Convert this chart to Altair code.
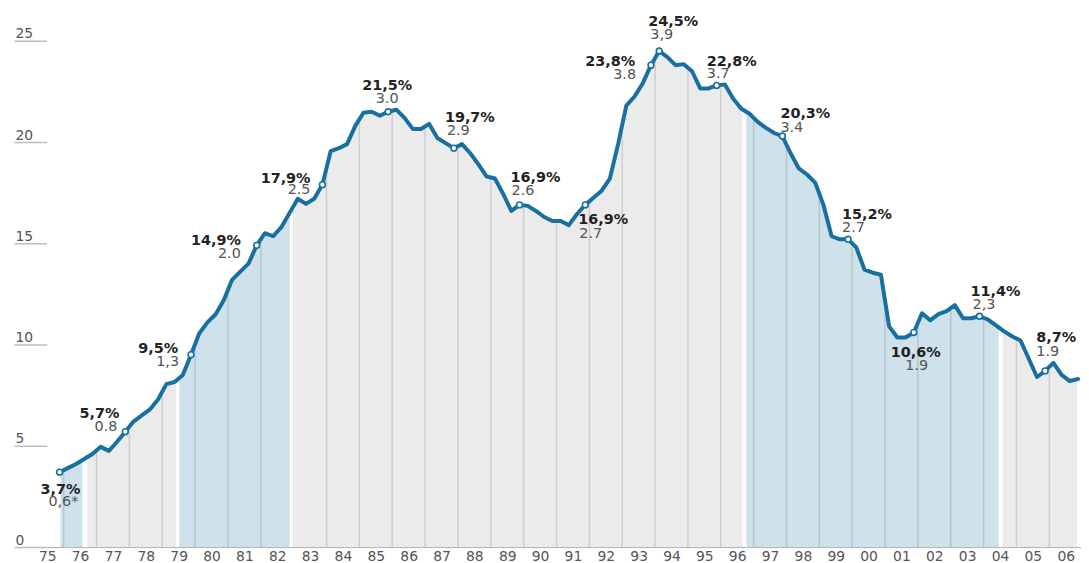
import altair as alt
import pandas as pd

# ---------------- data ----------------
first_year = 1975
first_quarter = 4  # series starts in Q4 1975

# unemployment rate (%), quarterly, Q4 1975 .. Q4 2006
unemployment = [
    3.7,
    3.9, 4.1, 4.35, 4.6,        # 1976
    4.95, 4.75, 5.2, 5.7,       # 1977
    6.2, 6.5, 6.8, 7.3,         # 1978
    8.05, 8.15, 8.5, 9.5,       # 1979
    10.55, 11.1, 11.5, 12.2,    # 1980
    13.2, 13.6, 14.0, 14.9,     # 1981
    15.5, 15.35, 15.8, 16.5,    # 1982
    17.2, 16.95, 17.2, 17.9,    # 1983
    19.55, 19.7, 19.9, 20.8,    # 1984
    21.45, 21.5, 21.3, 21.5,    # 1985
    21.6, 21.2, 20.65, 20.65,   # 1986
    20.9, 20.2, 19.95, 19.7,    # 1987
    19.9, 19.45, 18.9, 18.3,    # 1988
    18.2, 17.45, 16.6, 16.9,    # 1989
    16.85, 16.6, 16.3, 16.1,    # 1990
    16.1, 15.9, 16.45, 16.9,    # 1991
    17.25, 17.6, 18.2, 19.9,    # 1992
    21.8, 22.25, 22.9, 23.8,    # 1993
    24.5, 24.2, 23.8, 23.85,    # 1994
    23.5, 22.65, 22.65, 22.8,   # 1995
    22.85, 22.15, 21.65, 21.4,  # 1996
    21.0, 20.7, 20.45, 20.3,    # 1997
    19.45, 18.7, 18.4, 18.0,    # 1998
    16.9, 15.35, 15.2, 15.2,    # 1999
    14.8, 13.7, 13.55, 13.45,   # 2000
    10.9, 10.35, 10.35, 10.6,   # 2001
    11.55, 11.2, 11.5, 11.65,   # 2002
    11.95, 11.3, 11.3, 11.4,    # 2003
    11.25, 10.95, 10.65, 10.4,  # 2004
    10.2, 9.3, 8.4, 8.7,        # 2005
    9.1, 8.5, 8.2, 8.3,         # 2006
]

# annotated quarters (year, quarter), rate label, unemployed (millions) label
ann_year = [1975, 1977, 1979, 1981, 1983, 1985, 1987, 1989, 1991, 1993,
            1994, 1995, 1997, 1999, 2001, 2003, 2005]
ann_quarter = [4, 4, 4, 4, 4, 4, 4, 4, 4, 4, 1, 4, 4, 4, 4, 4, 4]
ann_pct = ["3,7%", "5,7%", "9,5%", "14,9%", "17,9%", "21,5%", "19,7%",
           "16,9%", "16,9%", "23,8%", "24,5%", "22,8%", "20,3%", "15,2%",
           "10,6%", "11,4%", "8,7%"]
ann_mil = ["0,6*", "0.8", "1,3", "2.0", "2.5", "3.0", "2.9", "2.6", "2.7",
           "3.8", "3,9", "3.7", "3.4", "2.7", "1.9", "2,3", "1.9"]

# government periods (fractional years) and shading
band_start = [1975.9, 1976.72, 1979.52, 1983.04, 1996.78, 2004.58]
band_end = [1976.57, 1979.42, 1982.88, 1996.66, 2004.46, 2006.85]
band_kind = ["blue", "gray", "blue", "gray", "blue", "gray"]

year_lines = list(range(1976, 2007))
x_label_years = list(range(1975, 2007))
y_ticks = [0, 5, 10, 15, 20, 25]

# ---------------- styling ----------------
LINE = "#17709f"
GRAY_FILL = "#ebebeb"
BLUE_FILL = "#cfe1ea"
FONT = "DejaVu Sans"
X_MIN, X_MAX = 1975.483, 2006.965
Y_MAX = 26.52

# label placement: (align, dx, dy) for rate and for millions
placement = [
    ("right", 21, 18, "right", 19, 30),
    ("right", -6, -18, "right", -8, -5),
    ("right", -13, -6, "right", -12, 7),
    ("right", -16, -4, "right", -16, 9),
    ("right", -12, -6, "right", -12, 5),
    ("center", -1, -26, "center", -1, -13),
    ("left", -9, -30, "left", -7, -17),
    ("left", -9, -27, "left", -8, -14),
    ("left", -7, 15, "left", -6, 29),
    ("right", -16, -3, "right", -15, 10),
    ("left", -11, -29, "left", -9, -16),
    ("left", -10, -24, "left", -10, -11),
    ("left", -2, -22, "left", -2, -8),
    ("left", -6, -24, "left", -6, -11),
    ("center", 2, 21, "center", 3, 34),
    ("left", -9, -24, "left", -7, -11),
    ("left", -9, -33, "left", -9, -19),
]

# ---------------- tables ----------------
def qpos(year, q):
    return year + (q - 0.5) / 4.0

rows = []
y, q = first_year, first_quarter
for v in unemployment:
    rows.append({"t": qpos(y, q), "value": v})
    q += 1
    if q > 4:
        q = 1
        y += 1
series = pd.DataFrame(rows)

ann = pd.DataFrame({
    "t": [qpos(a, b) for a, b in zip(ann_year, ann_quarter)],
    "pct": ann_pct,
    "mil": ann_mil,
})
ann["value"] = [series.loc[(series["t"] - t).abs().idxmin(), "value"] for t in ann["t"]]

bands = pd.DataFrame({"start": band_start, "end": band_end, "kind": band_kind})
years = pd.DataFrame({"year": year_lines})

xscale = alt.Scale(domain=[X_MIN, X_MAX], nice=False, zero=False)
yscale = alt.Scale(domain=[0, Y_MAX], nice=False, zero=True)

xaxis = alt.Axis(
    values=[v + 0.5 for v in x_label_years],
    labelExpr="substring(toString(floor(datum.value)), 2)",
    ticks=False, grid=False, domain=True, domainColor="#b0b0b0", domainWidth=1,
    labelFont=FONT, labelFontSize=14, labelColor="#555555", labelPadding=3,
    labelFlush=False, labelOverlap=False, labelBound=False, title=None, zindex=1,
)
yaxis = alt.Axis(
    values=y_ticks, domain=False, grid=False, ticks=True, tickSize=33,
    tickColor="#bdbdbd", tickWidth=1.5, labelAlign="left", labelBaseline="alphabetic",
    labelPadding=-1, labelOffset=-3, labelFont=FONT, labelFontSize=14,
    labelColor="#555555", title=None, zindex=1,
)

def X(field):
    return alt.X(field, type="quantitative", scale=xscale, axis=xaxis)

def Y(field):
    return alt.Y(field, type="quantitative", scale=yscale, axis=yaxis)

band_layer = alt.Chart(bands).mark_rect().encode(
    x=X("start"), x2="end",
    y=alt.datum(0, scale=yscale, axis=yaxis), y2=alt.datum(Y_MAX),
    color=alt.Color("kind:N", scale=alt.Scale(domain=["blue", "gray"],
                                              range=[BLUE_FILL, GRAY_FILL]), legend=None),
)

rule_layer = alt.Chart(years).mark_rule(color="#000000", opacity=0.12, strokeWidth=1.5).encode(
    x=X("year"), y=alt.datum(0), y2=alt.datum(Y_MAX),
)

mask_layer = alt.Chart(series).mark_area(color="white", opacity=1, interpolate="linear").encode(
    x=X("t"), y=Y("value"), y2=alt.datum(Y_MAX),
)

line_layer = alt.Chart(series).mark_line(
    color=LINE, strokeWidth=4, strokeJoin="round", strokeCap="round"
).encode(x=X("t"), y=Y("value"))

point_layer = alt.Chart(ann).mark_point(
    filled=True, fill="white", stroke=LINE, strokeWidth=1.6, size=34, opacity=1
).encode(x=X("t"), y=Y("value"))

layers = [band_layer, rule_layer, mask_layer, line_layer, point_layer]

for i, (a1, dx1, dy1, a2, dx2, dy2) in enumerate(placement):
    sub = ann.iloc[[i]]
    layers.append(
        alt.Chart(sub).mark_text(
            align=a1, baseline="middle", dx=dx1, dy=dy1, font=FONT,
            fontSize=14.5, fontWeight="bold", color="#222222",
        ).encode(x=X("t"), y=Y("value"), text="pct:N")
    )
    layers.append(
        alt.Chart(sub).mark_text(
            align=a2, baseline="middle", dx=dx2, dy=dy2, font=FONT,
            fontSize=14.5, color="#555555",
        ).encode(x=X("t"), y=Y("value"), text="mil:N")
    )

chart = alt.layer(*layers).properties(
    width=1042, height=541,
    autosize=alt.AutoSizeParams(type="none"),
    padding={"left": 39, "top": 0, "right": 0, "bottom": 22},
    background="white",
).configure_view(stroke=None)

chart.save("out.html", embed_options={"renderer": "svg", "actions": False})
